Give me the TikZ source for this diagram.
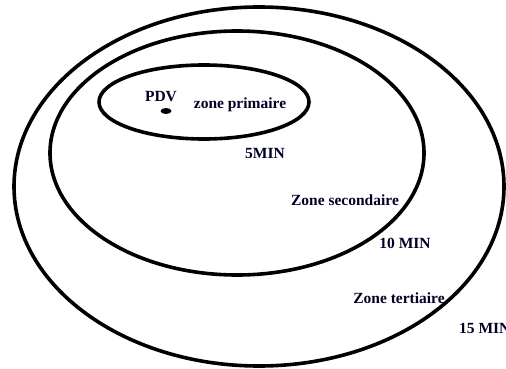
\documentclass[tikz,border=0pt]{standalone}
\usetikzlibrary{shapes.geometric}
\usepackage{fontspec}
\setmainfont{Liberation Serif}
\begin{document}
\begin{tikzpicture}[x=1pt,y=-1pt,
  zone/.style={draw=black,line width=3.6pt,ellipse,inner sep=0pt},
  lbl/.style={font=\fontsize{15.5}{17}\selectfont\bfseries,text=black!85!blue,inner sep=0pt}]
\useasboundingbox (0,0) rectangle (506,369);
\clip (0,0) rectangle (506,369);
\fill[white] (0,0) rectangle (506,369);
\node[zone,minimum width=490pt,minimum height=359pt] (outer) at (259,186.5) {};
\node[zone,minimum width=374pt,minimum height=244pt] (middle) at (237,153) {};
\node[zone,minimum width=210pt,minimum height=74pt] (inner) at (204,102) {};
\node[fill=black,ellipse,minimum width=11pt,minimum height=6pt,inner sep=0pt] (pdvdot) at (166,111) {};
\node[lbl] (pdv) at (161,97) {PDV};
\node[lbl] (zp) at (240,105) {zone primaire};
\node[lbl] (m5) at (265,154) {5MIN};
\node[lbl] (zs) at (345,200) {Zone secondaire};
\node[lbl] (m10) at (405,243) {10 MIN};
\node[lbl] (zt) at (399,298) {Zone tertiaire};
\node[lbl,anchor=west] (m15) at (459,328) {15 MIN};
\end{tikzpicture}
\end{document}
